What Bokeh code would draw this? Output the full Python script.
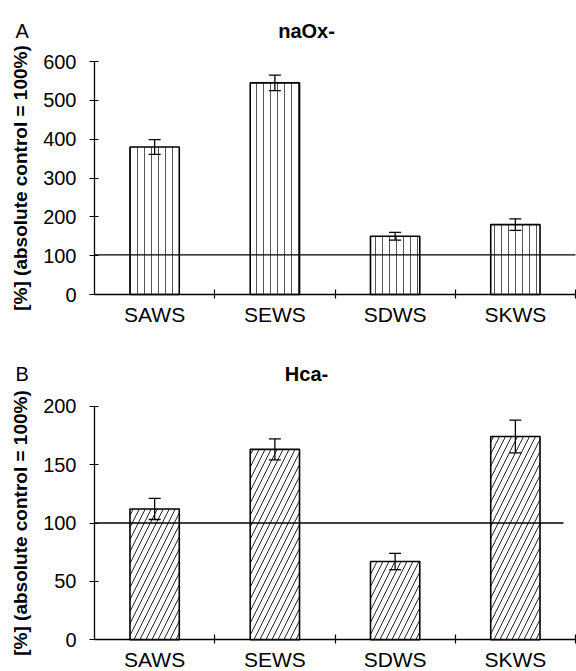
from bokeh.plotting import figure
from bokeh.layouts import column
from bokeh.models import Range1d, FixedTicker, ColumnDataSource, Whisker, TeeHead
from bokeh.core.properties import value
from bokeh.embed import file_html
from bokeh.resources import INLINE

categories = ["SAWS", "SEWS", "SDWS", "SKWS"]
naox_values = [380, 545, 150, 180]
naox_errors = [19, 20, 10, 15]
hca_values = [112, 163, 67, 174]
hca_errors = [9, 9, 7, 14]
naox_yticks = [0, 100, 200, 300, 400, 500, 600]
hca_yticks = [0, 50, 100, 150, 200]
control_level_a = 102
control_level_b = 100
ylabel = "[%] (absolute control = 100%)"

FONT = "Liberation Sans"
W = 576
AX_LEFT = 94      # pixel x of the y axis
AX_RIGHT = 575    # pixel x of the right end of the x axis


def make_panel(values, errors, ymax, yticks, hatch, hatch_scale, hatch_color,
               ctrl, ctrl_end, height, top_px, bottom_px, letter, title,
               baseline_px):
    n = len(categories)
    xs = list(range(1, n + 1))
    # the frame fills the whole canvas; the axes sit at fixed positions in it
    sx = (AX_RIGHT - AX_LEFT) / n
    x0 = 0.5 - AX_LEFT / sx
    x1 = n + 0.5 + (W - AX_RIGHT) / sx
    sy = (bottom_px - top_px) / ymax
    y0 = -(height - bottom_px) / sy
    y1 = ymax + top_px / sy

    def xd(px):
        return 0.5 + (px - AX_LEFT) / sx

    def yd(py):
        return (bottom_px - py) / sy

    p = figure(width=W, height=height, x_range=Range1d(x0, x1),
               y_range=Range1d(y0, y1), output_backend="svg",
               toolbar_location=None, min_border=0)
    p.outline_line_color = None
    p.xgrid.visible = False
    p.ygrid.visible = False
    p.background_fill_color = "white"
    p.border_fill_color = "white"

    src = ColumnDataSource(dict(
        x=xs, top=values,
        upper=[v + e for v, e in zip(values, errors)],
        lower=[v - e for v, e in zip(values, errors)]))
    p.vbar(x="x", top="top", bottom=0, width=0.41, source=src,
           fill_color="white", line_color="black", line_width=1.6,
           hatch_pattern=hatch, hatch_scale=hatch_scale, hatch_color=hatch_color,
           hatch_weight=1)
    p.segment(x0=[0.5], y0=[ctrl], x1=[ctrl_end], y1=[ctrl],
              line_color="black", line_width=1.3)
    w = Whisker(source=src, base="x", upper="upper", lower="lower",
                line_color="black", line_width=1.3, level="annotation",
                upper_head=TeeHead(size=12, line_color="black", line_width=1.3),
                lower_head=TeeHead(size=12, line_color="black", line_width=1.3))
    p.add_layout(w)

    xa = p.xaxis[0]
    xa.fixed_location = 0
    xa.bounds = (0.5, n + 0.5)
    xa.ticker = FixedTicker(ticks=xs, minor_ticks=[x + 0.5 for x in xs])
    xa.major_label_overrides = {x: c for x, c in zip(xs, categories)}
    xa.major_tick_line_color = None
    xa.major_tick_in = 0
    xa.major_tick_out = 0
    xa.minor_tick_line_color = "black"
    xa.minor_tick_in = 5
    xa.minor_tick_out = 4
    xa.minor_tick_line_width = 1.2
    xa.axis_line_color = "black"
    xa.axis_line_width = 1.3
    xa.major_label_text_font = FONT
    xa.major_label_text_font_size = "21px"
    xa.major_label_text_color = "black"
    xa.major_label_standoff = 4

    ya = p.yaxis[0]
    ya.fixed_location = 0.5
    ya.bounds = (0, ymax)
    ya.ticker = FixedTicker(ticks=yticks)
    ya.minor_tick_line_color = None
    ya.major_tick_in = 4
    ya.major_tick_out = 5
    ya.major_tick_line_color = "black"
    ya.major_tick_line_width = 1.2
    ya.axis_line_color = "black"
    ya.axis_line_width = 1.3
    ya.major_label_text_font = FONT
    ya.major_label_text_font_size = "20px"
    ya.major_label_text_color = "black"
    ya.major_label_standoff = 13
    ya.axis_label = ylabel
    ya.axis_label_text_font = FONT
    ya.axis_label_text_font_size = "19px"
    ya.axis_label_text_font_style = "bold"
    ya.axis_label_text_color = "black"
    ya.axis_label_standoff = 9

    p.text(x=[xd(15)], y=[yd(baseline_px)], text=[letter],
           text_font=value(FONT), text_font_size="20px", text_color="black",
           text_baseline="alphabetic", text_align="left")
    p.text(x=[xd(306)], y=[yd(baseline_px)], text=[title],
           text_font=value(FONT), text_font_size="20px",
           text_font_style="bold", text_color="black",
           text_baseline="alphabetic", text_align="center")
    return p


pa = make_panel(naox_values, naox_errors, 600, naox_yticks, "|", 7, "#555555",
                control_level_a, 4.5, 335, 61, 294, "A", "naOx-", 30)
pb = make_panel(hca_values, hca_errors, 200, hca_yticks, "/", 12, "#222222",
                control_level_b, 4.4, 336, 70.7, 304.3, "B", "Hca-", 38.3)

layout = column(pa, pb, spacing=0)
open("out.html", "w").write(file_html(layout, INLINE))
